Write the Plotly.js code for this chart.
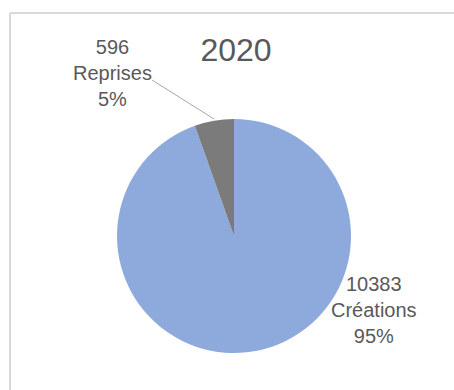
<!DOCTYPE html>
<html>
<head>
<meta charset="utf-8">
<script src="https://cdn.plot.ly/plotly-3.0.1.min.js"></script>
<style>html,body{margin:0;padding:0;background:#fff;}#chart{width:454px;height:390px;}</style>
</head>
<body>
<div id="chart"></div>
<script>
const chartTitle = "2020";
const categories = ["Créations", "Reprises"];
const values = [10383, 596];
const colors = ["#8eaadc", "#7b7b7b"];

const W = 454, H = 390;
const px = x => x / W;
const py = y => 1 - y / H;

const total = values.reduce((a, b) => a + b, 0);
const labelText = categories.map((c, i) =>
  values[i] + "<br>" + c + "<br>" + Math.round(values[i] / total * 100) + "%");

const labelPos = [[374, 310], [112, 73]];
const font = {family: "Liberation Sans, Arial, sans-serif", size: 20, color: "#595959"};

const data = [{
  type: "pie",
  labels: categories,
  values: values,
  sort: false,
  direction: "clockwise",
  rotation: 0,
  marker: {colors: colors, line: {width: 0}},
  textinfo: "none",
  hoverinfo: "none",
  showlegend: false,
  domain: {x: [px(117), px(351)], y: [py(353), py(119)]}
}];

const layout = {
  width: W, height: H,
  margin: {l: 0, r: 0, t: 0, b: 0},
  paper_bgcolor: "#ffffff",
  plot_bgcolor: "#ffffff",
  title: {
    text: chartTitle,
    x: px(236), xanchor: "center", xref: "paper",
    y: py(50), yanchor: "middle", yref: "paper",
    font: {family: "Liberation Sans, Arial, sans-serif", size: 32, color: "#595959"}
  },
  annotations: labelText.map((t, i) => ({
    text: t, xref: "paper", yref: "paper",
    x: px(labelPos[i][0]), y: py(labelPos[i][1]),
    xanchor: "center", yanchor: "middle",
    showarrow: false, font: font, align: "center"
  })),
  shapes: [
    {type: "line", xref: "paper", yref: "paper", x0: px(10), x1: 1, y0: py(13), y1: py(13), line: {color: "#d9d9d9", width: 2}},
    {type: "line", xref: "paper", yref: "paper", x0: px(10), x1: px(10), y0: py(13), y1: 0, line: {color: "#d9d9d9", width: 2}},
    {type: "line", xref: "paper", yref: "paper", x0: px(152), x1: px(214), y0: py(80), y1: py(119), line: {color: "#a6a6a6", width: 1}}
  ]
};

Plotly.newPlot("chart", data, layout, {displayModeBar: false, staticPlot: true});
</script>
</body>
</html>
